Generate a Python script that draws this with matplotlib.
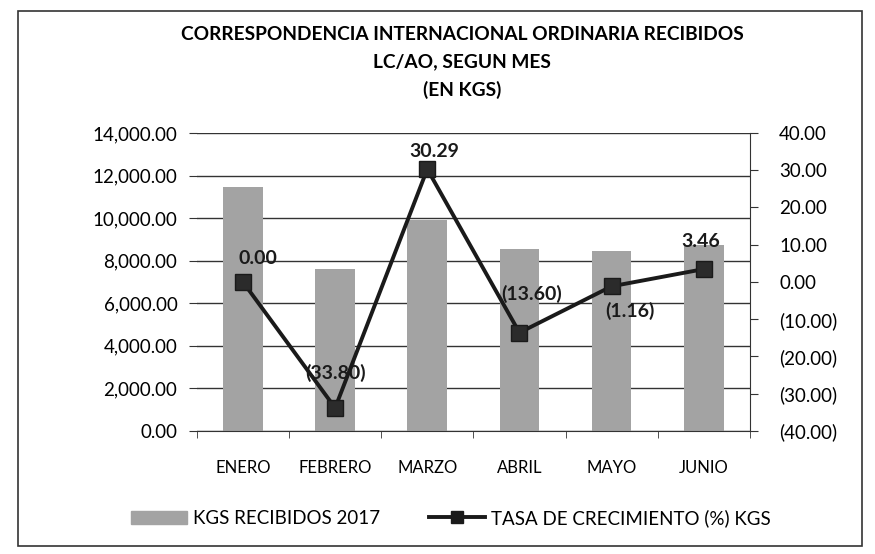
import matplotlib
matplotlib.use('Agg')
import matplotlib.pyplot as plt
from matplotlib.patches import Rectangle, Patch
from matplotlib.ticker import FuncFormatter, FixedLocator
from matplotlib.lines import Line2D

plt.rcParams['font.family'] = ['Lato', 'DejaVu Sans']

# data
meses = ['ENERO', 'FEBRERO', 'MARZO', 'ABRIL', 'MAYO', 'JUNIO']
kgs_2017 = [11480, 7600, 9900, 8560, 8460, 8750]
tasa = [0.00, -33.80, 30.29, -13.60, -1.16, 3.46]
etiquetas_tasa = ['0.00', '(33.80)', '30.29', '(13.60)', '(1.16)', '3.46']


def fmt_paren(v, pos=None):
    if v < 0:
        return f'({abs(v):,.2f})'
    return f'{v:,.2f}'


fig = plt.figure(figsize=(8.75, 5.54), dpi=100)
fig.patches.append(Rectangle((0.02, 0.015), 0.965, 0.965, transform=fig.transFigure,
                             fill=False, edgecolor='#333333', linewidth=1.2))

ax = fig.add_axes([0.225, 0.222, 0.632, 0.538])
x = list(range(len(meses)))
ax.bar(x, kgs_2017, width=0.43, color='#a3a3a3', zorder=2)
ax.set_ylim(0, 14000)
ax.set_xlim(-0.5, len(meses) - 0.5)
ax.set_yticks(range(0, 14001, 2000))
ax.yaxis.set_major_formatter(FuncFormatter(lambda v, p: f'{v:,.2f}'))
ax.grid(axis='y', color='#333333', linewidth=1.0, zorder=0)
ax.set_axisbelow(True)
ax.set_xticks(x)
ax.set_xticklabels(meses)
ax.xaxis.set_minor_locator(FixedLocator([i + 0.5 for i in range(-1, len(meses))]))
ax.tick_params(axis='x', which='major', length=0, pad=21, labelsize=12)
ax.tick_params(axis='x', which='minor', length=5, color='#333333')
ax.tick_params(axis='y', length=6, color='#333333', labelsize=13.5, pad=8)
for s in ['top', 'left', 'right']:
    ax.spines[s].set_visible(False)
ax.spines['bottom'].set_color('#333333')

ax2 = ax.twinx()
ax2.plot(x, tasa, color='#1a1a1a', linewidth=2.8, marker='s', markersize=11,
         markerfacecolor='#2b2b2b', markeredgecolor='#1a1a1a', zorder=3)
ax2.set_ylim(-40, 40)
ax2.set_yticks(range(-40, 41, 10))
ax2.yaxis.set_major_formatter(FuncFormatter(fmt_paren))
ax2.tick_params(axis='y', length=6, color='#333333', labelsize=13.5, pad=15)
for s in ['top', 'left', 'bottom']:
    ax2.spines[s].set_visible(False)
ax2.spines['right'].set_color('#333333')

offsets = [(11, 17), (0, 25), (5, 13), (9, 28), (13, -18), (-2, 20)]
for xi, yi, lab, (dx, dy) in zip(x, tasa, etiquetas_tasa, offsets):
    ax2.annotate(lab, (xi, yi), xytext=(dx, dy), textcoords='offset points',
                 ha='center', va='center', fontsize=14, fontweight='bold', color='#1a1a1a')

fig.text(0.528, 0.938, 'CORRESPONDENCIA INTERNACIONAL ORDINARIA RECIBIDOS',
         ha='center', va='center', fontsize=13.8, fontweight='bold')
fig.text(0.528, 0.888, 'LC/AO, SEGUN MES', ha='center', va='center', fontsize=13.8, fontweight='bold')
fig.text(0.528, 0.838, '(EN KGS)', ha='center', va='center', fontsize=13.8, fontweight='bold')

handles = [Patch(color='#a3a3a3', label='KGS RECIBIDOS 2017'),
           Line2D([0], [0], color='#1a1a1a', linewidth=2.8, marker='s', markersize=9,
                  label='TASA DE CRECIMIENTO (%) KGS')]
fig.legend(handles=handles, loc='center', bbox_to_anchor=(0.515, 0.065), ncol=2,
           frameon=False, fontsize=13.5, handlelength=3.0, columnspacing=2.6, handletextpad=0.3)

fig.savefig('out.png', dpi=100)
